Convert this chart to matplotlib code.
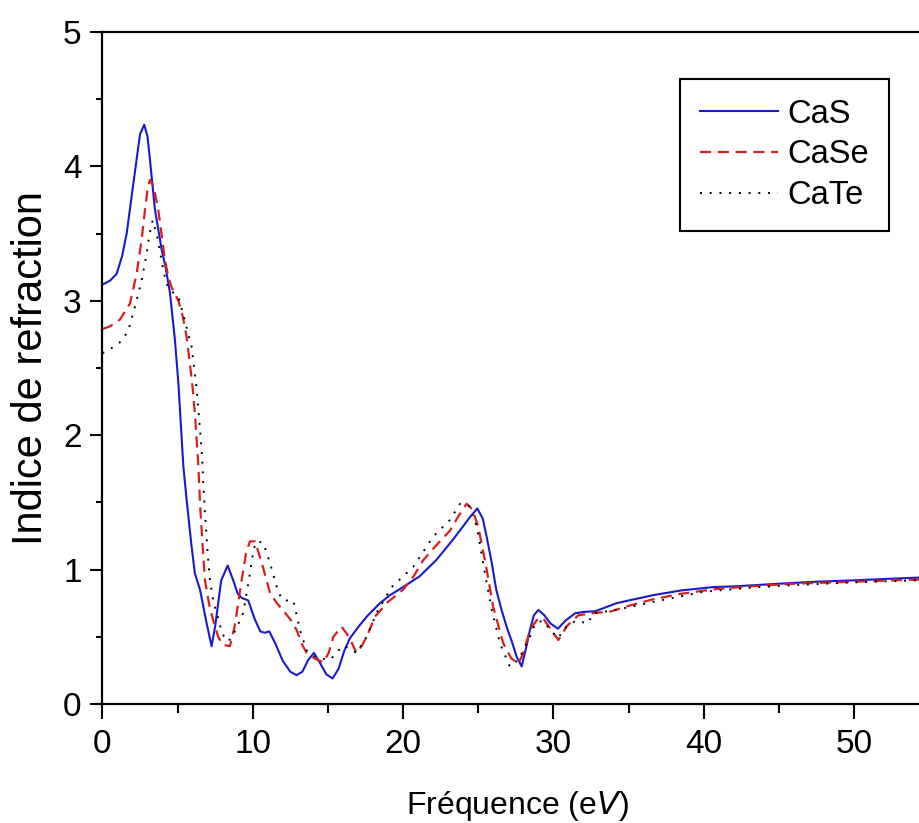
import matplotlib
matplotlib.use("Agg")
import matplotlib.pyplot as plt
from matplotlib.ticker import MultipleLocator

plt.rcParams['font.family'] = ['Liberation Sans', 'DejaVu Sans']

# ---- data ----
cas_x = [0, 0.5, 0.94, 1.3, 1.61, 2.05, 2.5, 2.78, 3.0, 3.16, 3.49, 3.94, 4.2, 4.49, 4.82,
         5.05, 5.38, 5.6, 5.9, 6.15, 6.49, 6.93, 7.26, 7.5, 7.9, 8.33, 8.7, 9.0, 9.26, 9.7,
         10.1, 10.5, 10.8, 11.1, 11.5, 12.0, 12.5, 12.92, 13.3, 13.7, 14.07, 14.5, 14.9,
         15.31, 15.7, 16.1, 16.47, 17.0, 17.58, 18.46, 19.13, 20.0, 21.1, 22.2, 23.3, 24.45,
         24.94, 25.3, 25.56, 25.9, 26.2, 26.55, 26.89, 27.25, 27.56, 27.89, 28.15, 28.44,
         28.7, 29.0, 29.4, 29.8, 30.3, 30.8, 31.44, 32.0, 32.77, 33.5, 34.2, 35.0, 36.65,
         38.5, 40.64, 42.0, 45.0, 47.5, 50.0, 52.0, 54.2, 56.0]
cas_y = [3.12, 3.15, 3.20, 3.33, 3.50, 3.87, 4.24, 4.31, 4.22, 4.05, 3.68, 3.38, 3.25, 3.06, 2.71,
         2.39, 1.77, 1.52, 1.20, 0.97, 0.85, 0.60, 0.43, 0.58, 0.92, 1.03, 0.92, 0.82, 0.79, 0.77,
         0.64, 0.54, 0.53, 0.54, 0.45, 0.32, 0.24, 0.215, 0.24, 0.33, 0.38, 0.30, 0.22,
         0.19, 0.26, 0.40, 0.49, 0.57, 0.65, 0.75, 0.81, 0.87, 0.95, 1.07, 1.22, 1.39,
         1.455, 1.38, 1.245, 1.05, 0.85, 0.70, 0.575, 0.46, 0.35, 0.28, 0.40, 0.55,
         0.66, 0.70, 0.66, 0.60, 0.56, 0.62, 0.675, 0.685, 0.69, 0.72, 0.75, 0.77, 0.81,
         0.845, 0.87, 0.875, 0.895, 0.91, 0.92, 0.93, 0.94, 0.945]

case_x = [0, 0.5, 1.16, 1.83, 2.27, 2.6, 2.83, 3.0, 3.16, 3.4, 3.71, 3.95, 4.16, 4.4, 4.6,
          5.05, 5.35, 5.6, 5.82, 6.0, 6.15, 6.38, 6.5, 6.65, 6.82, 7.1, 7.36, 7.7, 8.0, 8.48,
          8.8, 9.26, 9.55, 9.81, 10.15, 10.6, 11.14, 11.6, 12.14, 12.5, 12.92, 13.25, 13.58,
          14.1, 14.69, 15.05, 15.36, 15.91, 16.4, 16.9, 17.3, 17.69, 18.13, 19.0, 20.0, 20.7,
          21.34, 22.2, 23.12, 23.7, 24.23, 24.6, 25.0, 25.56, 26.0, 26.67, 27.2, 27.67, 28.0,
          28.44, 28.9, 29.3, 29.8, 30.33, 30.9, 31.66, 32.5, 33.77, 35.0, 36.65, 38.5, 40.64,
          43.0, 46.0, 50.0, 54.0, 56.0]
case_y = [2.79, 2.81, 2.86, 2.98, 3.20, 3.45, 3.68, 3.83, 3.90, 3.85, 3.68, 3.48, 3.30, 3.17, 3.10,
          3.00, 2.88, 2.73, 2.53, 2.35, 2.16, 1.77, 1.47, 1.20, 0.92, 0.74, 0.625, 0.50, 0.44, 0.43,
          0.58, 0.92, 1.12, 1.21, 1.21, 1.05, 0.83, 0.75, 0.68, 0.63, 0.55, 0.45, 0.38,
          0.34, 0.31, 0.38, 0.50, 0.575, 0.50, 0.38, 0.44, 0.53, 0.65, 0.76, 0.85, 0.95,
          1.07, 1.18, 1.29, 1.40, 1.49, 1.45, 1.32, 1.00, 0.72, 0.45, 0.34, 0.30, 0.38,
          0.55, 0.625, 0.64, 0.56, 0.476, 0.58, 0.66, 0.675, 0.687, 0.73, 0.78, 0.82, 0.853,
          0.875, 0.895, 0.91, 0.925, 0.93]

cate_x = [0, 0.5, 1.27, 1.72, 2.27, 2.6, 2.94, 3.1, 3.34, 3.6, 3.85, 4.1, 4.35, 4.6, 5.05,
          5.38, 5.6, 5.93, 6.27, 6.6, 6.71, 6.82, 7.0, 7.15, 7.4, 7.6, 7.9, 8.2, 8.5, 8.9,
          9.37, 9.81, 10.05, 10.26, 10.7, 11.14, 11.7, 12.03, 12.7, 13.14, 13.58, 14.0, 14.47,
          15.14, 15.6, 15.91, 16.36, 16.9, 17.58, 18.24, 19.24, 20.68, 22.0, 23.12, 23.79,
          24.45, 24.9, 25.45, 25.9, 26.45, 27.11, 27.67, 28.1, 28.44, 28.8, 29.3, 29.8, 30.3,
          30.9, 31.5, 32.3, 32.66, 34.2, 36.65, 40.0, 43.0, 46.0, 50.0, 54.0, 56.0]
cate_y = [2.61, 2.64, 2.70, 2.78, 3.00, 3.15, 3.35, 3.48, 3.60, 3.50, 3.35, 3.20, 3.10, 3.07, 3.03,
          2.90, 2.80, 2.66, 2.34, 1.89, 1.64, 1.42, 1.12, 0.92, 0.75, 0.68, 0.55, 0.47, 0.48, 0.56,
          0.68, 0.97, 1.15, 1.21, 1.20, 1.05, 0.83, 0.77, 0.77, 0.55, 0.40, 0.36, 0.34,
          0.33, 0.38, 0.43, 0.42, 0.38, 0.50, 0.68, 0.87, 1.02, 1.245, 1.37, 1.49,
          1.47, 1.32, 0.97, 0.70, 0.45, 0.277, 0.33, 0.42, 0.50, 0.60, 0.62, 0.55, 0.49,
          0.58, 0.62, 0.60, 0.675, 0.70, 0.76, 0.835, 0.865, 0.885, 0.905, 0.92, 0.925]

labels = ["CaS", "CaSe", "CaTe"]
x_ticks = [0, 10, 20, 30, 40, 50]
y_ticks = [0, 1, 2, 3, 4, 5]

fig = plt.figure(figsize=(9.19, 8.23), dpi=100)
# axes extends slightly past the right edge of the image (as in the cropped reference)
ax = fig.add_axes([0.1115, 0.1446, 0.9028, 0.8165])

ax.plot(cas_x, cas_y, color='#1a1acc', lw=1.5, ls='-', label=labels[0])
ax.plot(case_x, case_y, color='#d42020', lw=1.6, ls=(0, (5, 3)), label=labels[1])
ax.plot(cate_x, cate_y, color='black', lw=1.4, ls=(0, (1, 4)), label=labels[2])

ax.set_xlim(0, 55.2)
ax.set_ylim(0, 5)
ax.set_xticks(x_ticks)
ax.set_yticks(y_ticks)
ax.xaxis.set_minor_locator(MultipleLocator(5))
ax.yaxis.set_minor_locator(MultipleLocator(0.5))
ax.tick_params(axis='x', which='major', direction='out', length=11, width=1.5, pad=7, labelsize=24)
ax.tick_params(axis='x', which='minor', direction='out', length=6.5, width=1.5)
ax.tick_params(axis='y', which='major', direction='out', length=9, width=1.5, pad=6, labelsize=24)
ax.tick_params(axis='y', which='minor', direction='out', length=4, width=1.5)
ax.tick_params(top=False, right=False)
for s in ax.spines.values():
    s.set_linewidth(1.6)

ax.set_xlabel("Fréquence (e$\\it{V}$)", fontsize=23, labelpad=21)
ax.set_ylabel("Indice de refraction", fontsize=30, labelpad=9)

leg = ax.legend(loc='upper left', bbox_to_anchor=(680 / 919, 1 - 79 / 823),
                bbox_transform=fig.transFigure, borderaxespad=0, fontsize=23.5,
                frameon=True, fancybox=False, framealpha=1, edgecolor='black',
                handlelength=2.4, handletextpad=0.3, labelspacing=0.3, borderpad=0.6)
leg.get_frame().set_linewidth(1.5)

fig.savefig("out.png", dpi=100)
